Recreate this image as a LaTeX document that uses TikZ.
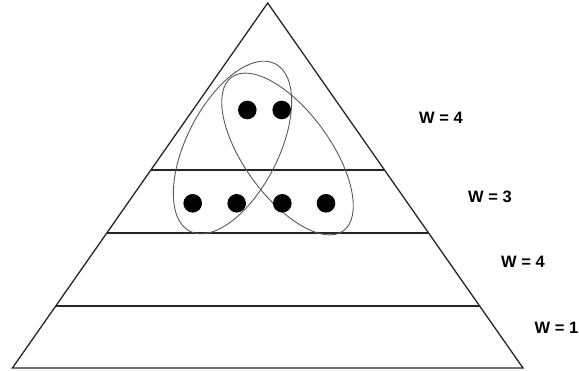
\documentclass[tikz,border=0pt]{standalone}
\usepackage{fontspec}
\setmainfont{Liberation Sans}
\usetikzlibrary{calc}

\begin{document}
\begin{tikzpicture}[x=1pt, y=1pt,
  level/.style={line width=1.3pt, black!85},
  group/.style={line width=0.9pt, black!65},
  member/.style={fill=black},
  weight/.style={font=\fontsize{16.5}{18}\selectfont\bfseries}]
% Frame
\useasboundingbox (0,0) rectangle (579,371);

% Pyramid
\coordinate (apex) at (267.7,368);
\coordinate (bl) at (12.4,3);
\coordinate (br) at (523,3);
\draw[level, line join=miter] (bl) -- (apex) -- (br) -- cycle;

% Level lines
\foreach \t [count=\i] in {0.4575,0.630,0.830}
  \draw[level] ($(apex)!\t!(bl)$) coordinate (l\i) -- ($(apex)!\t!(br)$) coordinate (r\i);

% Groups (ellipses)
\draw[group] (232.5,223.5) ellipse [x radius=46, y radius=94, rotate=-27];
\draw[group] (287.5,217) ellipse [x radius=43, y radius=95, rotate=36];

% Members
\fill[member] (247.3,261) circle (9.3pt);
\fill[member] (281.7,261) circle (9.3pt);
\fill[member] (192.7,167.7) circle (9.3pt);
\fill[member] (236.7,167.7) circle (9.3pt);
\fill[member] (282.3,167.7) circle (9.3pt);
\fill[member] (326,167.7) circle (9.3pt);

% Weights
\node[weight] (w1) at (441,253) {W = 4};
\node[weight] (w2) at (490,174) {W = 3};
\node[weight] (w3) at (523,109) {W = 4};
\node[weight] (w4) at (556.5,43) {W = 1};
\end{tikzpicture}
\end{document}
